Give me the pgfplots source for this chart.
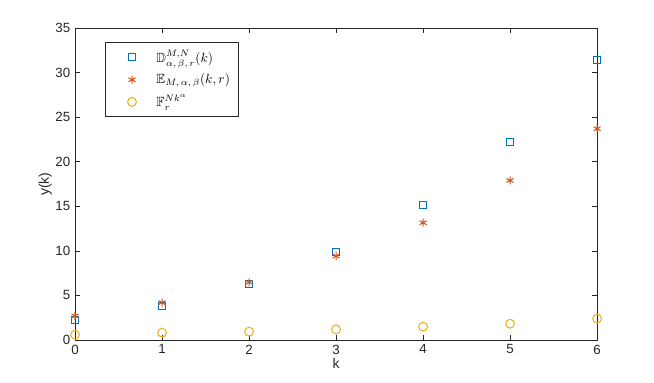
\documentclass[border=0pt]{standalone}
\usepackage{pgfplots}
\pgfplotsset{compat=1.18}
\usepackage{amssymb}
\usepackage{fontspec}
\setmainfont{Liberation Sans}
\definecolor{mblue}{rgb}{0,0.447,0.741}
\definecolor{morange}{rgb}{0.85,0.325,0.098}
\definecolor{myellow}{rgb}{0.929,0.694,0.125}
\definecolor{axgray}{rgb}{0.15,0.15,0.15}
\begin{document}
\begin{tikzpicture}
\begin{axis}[
    width=391.5pt, height=234pt,
    scale only axis,
    xmin=0, xmax=6, ymin=0, ymax=35,
    xtick={0,1,2,3,4,5,6},
    ytick={0,5,10,15,20,25,30,35},
    tick align=inside,
    major tick length=4pt,
    axis line style={axgray},
    every tick/.style={axgray},
    tick label style={font=\fontsize{10}{12}\selectfont, text=axgray},
    /pgf/number format/assume math mode=true,
    xlabel={k}, ylabel={y(k)},
    label style={font=\fontsize{10.5}{12}\selectfont, text=axgray},
    xlabel style={yshift=4pt},
    ylabel style={yshift=-4pt},
    clip=false,
    legend style={at={(rel axis cs:0.0575,0.955)}, anchor=north west,
        draw=axgray, font=\fontsize{10}{12}\selectfont,
        inner xsep=4pt, inner ysep=3.5pt,
        row sep=3pt,
        /tikz/every odd column/.append style={column sep=13pt}},
    legend image code/.code={\path (0cm,0cm); \draw plot coordinates {(0.55cm,0cm)};},
    legend cell align=left,
]
\addplot[only marks, mark=square, mark size=2.5pt, color=mblue, thick] coordinates {
    (0,2.24) (1,3.85) (2,6.28) (3,9.9) (4,15.14) (5,22.2) (6,31.4)
};
\addlegendentry{$\mathbb{D}^{M,N}_{\alpha,\,\beta,\,r}(k)$}
\addplot[only marks, mark=asterisk, mark size=3pt, color=morange, thick] coordinates {
    (0,2.69) (1,4.2) (2,6.47) (3,9.42) (4,13.16) (5,17.9) (6,23.7)
};
\addlegendentry{$\mathbb{E}_{M,\,\alpha,\,\beta}(k,r)$}
\addplot[only marks, mark=o, mark size=3.3pt, color=myellow, thick] coordinates {
    (0,0.6) (1,0.82) (2,0.94) (3,1.2) (4,1.5) (5,1.83) (6,2.4)
};
\addlegendentry{$\mathbb{F}^{Nk^{\alpha}}_{r}$}
\path (rel axis cs:-0.1437,-0.1346) rectangle (rel axis cs:1.109,1.0897);
\end{axis}
\end{tikzpicture}
\end{document}
